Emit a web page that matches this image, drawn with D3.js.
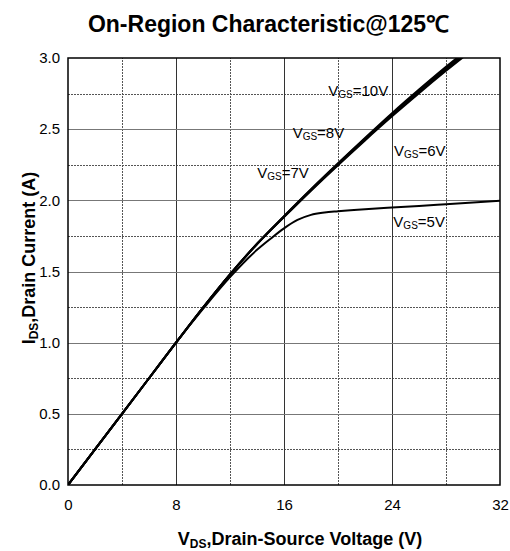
<!DOCTYPE html>
<html><head><meta charset="utf-8">
<script src="https://cdn.jsdelivr.net/npm/d3@7"></script>
<style>body{margin:0;background:#fff}svg{display:block}</style>
</head><body>
<svg id="c" width="510" height="551"></svg>
<script>
const title = "On-Region Characteristic@125\u2103";
const xTicks = [0, 8, 16, 24, 32];
const yTicks = [0.0, 0.5, 1.0, 1.5, 2.0, 2.5, 3.0];
const xMinor = [4, 12, 20, 28];
const yMinor = [0.25, 0.75, 1.25, 1.75, 2.25, 2.75];

const vdsHi = [0, 2, 4, 6, 8, 10, 12, 14, 16, 18, 20, 22, 24, 26, 28, 30];
const id10 = [0, 0.25, 0.5, 0.75, 1.0, 1.246, 1.480, 1.695, 1.889, 2.078, 2.260, 2.438, 2.612, 2.778, 2.938, 3.090];
const id8  = [0, 0.25, 0.5, 0.75, 1.0, 1.246, 1.480, 1.694, 1.887, 2.075, 2.256, 2.432, 2.605, 2.770, 2.929, 3.080];
const id7  = [0, 0.25, 0.5, 0.75, 1.0, 1.246, 1.479, 1.693, 1.885, 2.072, 2.252, 2.427, 2.598, 2.762, 2.920, 3.070];
const id6  = [0, 0.25, 0.5, 0.75, 1.0, 1.245, 1.478, 1.691, 1.882, 2.068, 2.247, 2.421, 2.590, 2.753, 2.910, 3.060];

const vds5 = [0, 2, 4, 6, 8, 10, 12, 14, 15, 16, 17, 18, 19, 20, 22, 24, 26, 28, 30, 32];
const id5  = [0, 0.25, 0.5, 0.75, 1.0, 1.237, 1.46, 1.652, 1.73, 1.803, 1.862, 1.898, 1.914, 1.923, 1.938, 1.95, 1.961, 1.973, 1.985, 1.997];

const seriesNames = ["10", "8", "7", "6", "5"];
const labelVds = [19.28, 16.64, 14.02, 24.15, 24.1];
const labelIds = [2.733, 2.436, 2.159, 2.311, 1.811];

const W = 510, H = 551;
const m = {l: 68, r: 10, t: 58, b: 66};
const svg = d3.select("#c");
const x = d3.scaleLinear().domain([0, 32]).range([m.l, W - m.r]);
const y = d3.scaleLinear().domain([0, 3]).range([H - m.b, m.t]);
const font = "Arial, 'Liberation Sans', Helvetica, sans-serif";

// title
svg.append("text").attr("x", 268.5).attr("y", 32).attr("text-anchor", "middle")
  .attr("font-family", font).attr("font-weight", "bold").attr("font-size", 23)
  .attr("fill", "#000").text(title);

// minor dashed grid
const g = svg.append("g");
g.selectAll(".vx").data(xMinor).join("line")
  .attr("x1", d => Math.round(x(d)) + 0.5).attr("x2", d => Math.round(x(d)) + 0.5)
  .attr("y1", y(0)).attr("y2", y(3))
  .attr("stroke", "#555").attr("stroke-width", 1).attr("stroke-dasharray", "2,1");
g.selectAll(".hy").data(yMinor).join("line")
  .attr("y1", d => Math.round(y(d)) + 0.5).attr("y2", d => Math.round(y(d)) + 0.5)
  .attr("x1", x(0)).attr("x2", x(32))
  .attr("stroke", "#555").attr("stroke-width", 1).attr("stroke-dasharray", "2,1");
// major solid grid
g.selectAll(".vM").data(xTicks.slice(1, -1)).join("line")
  .attr("x1", d => Math.round(x(d)) + 0.5).attr("x2", d => Math.round(x(d)) + 0.5)
  .attr("y1", y(0)).attr("y2", y(3))
  .attr("stroke", "#333").attr("stroke-width", 1);
g.selectAll(".hM").data(yTicks.slice(1, -1)).join("line")
  .attr("y1", d => Math.round(y(d)) + 0.5).attr("y2", d => Math.round(y(d)) + 0.5)
  .attr("x1", x(0)).attr("x2", x(32))
  .attr("stroke", "#777").attr("stroke-width", 1);

// curves
svg.append("clipPath").attr("id", "clip").append("rect")
  .attr("x", x(0)).attr("y", y(3)).attr("width", x(32) - x(0)).attr("height", y(0) - y(3));
const line = d3.line().x(d => x(d[0])).y(d => y(d[1])).curve(d3.curveMonotoneX);
const curves = [
  d3.zip(vdsHi, id10), d3.zip(vdsHi, id8), d3.zip(vdsHi, id7), d3.zip(vdsHi, id6), d3.zip(vds5, id5)
];
svg.append("g").attr("clip-path", "url(#clip)")
  .selectAll("path").data(curves).join("path")
  .attr("d", line).attr("fill", "none").attr("stroke", "#000").attr("stroke-width", 2);

// frame
svg.append("rect").attr("x", x(0)).attr("y", y(3)).attr("width", x(32) - x(0)).attr("height", y(0) - y(3))
  .attr("fill", "none").attr("stroke", "#000").attr("stroke-width", 1.5);

// axes tick labels
const xAxis = d3.axisBottom(x).tickValues(xTicks).tickSize(0).tickPadding(14).tickFormat(d3.format("d"));
const ax = svg.append("g").attr("transform", `translate(0,${y(0)})`).call(xAxis);
ax.select(".domain").remove();
ax.selectAll("text").attr("font-family", font).attr("font-size", 15).attr("fill", "#000");
const yAxis = d3.axisLeft(y).tickValues(yTicks).tickSize(0).tickPadding(8).tickFormat(d3.format(".1f"));
const ay = svg.append("g").attr("transform", `translate(${x(0)},0)`).call(yAxis);
ay.select(".domain").remove();
ay.selectAll("text").attr("font-family", font).attr("font-size", 15).attr("fill", "#000");

// axis titles
const xt = svg.append("text").attr("x", 300).attr("y", 545).attr("text-anchor", "middle")
  .attr("font-family", font).attr("font-weight", "bold").attr("font-size", 18).attr("fill", "#000");
xt.append("tspan").text("V");
xt.append("tspan").attr("font-size", 12).attr("dy", 3).text("DS");
xt.append("tspan").attr("dy", -3).text(",Drain-Source Voltage (V)");

const yt = svg.append("text").attr("transform", "translate(35,258) rotate(-90)").attr("text-anchor", "middle")
  .attr("font-family", font).attr("font-weight", "bold").attr("font-size", 18).attr("fill", "#000");
yt.append("tspan").text("I");
yt.append("tspan").attr("font-size", 12).attr("dy", 3).text("DS");
yt.append("tspan").attr("dy", -3).text(",Drain Current (A)");

// series labels
seriesNames.forEach((n, i) => {
  const t = svg.append("text").attr("x", x(labelVds[i])).attr("y", y(labelIds[i]))
    .attr("font-family", font).attr("font-size", 15).attr("fill", "#000");
  t.append("tspan").text("V");
  t.append("tspan").attr("font-size", 10).attr("dy", 2).text("GS");
  t.append("tspan").attr("dy", -2).text("=" + n + "V");
});
</script>
</body></html>
